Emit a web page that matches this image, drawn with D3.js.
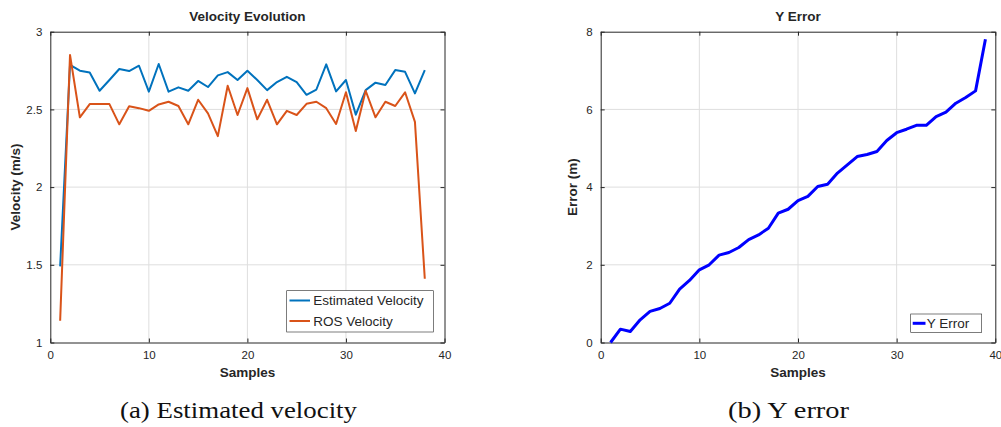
<!DOCTYPE html>
<html>
<head>
<meta charset="utf-8">
<script src="https://cdn.jsdelivr.net/npm/d3@7"></script>
<style>
  body { margin: 0; background: #fff; }
  svg text { font-family: "Liberation Sans", Arial, sans-serif; fill: #262626; }
  .grid line { stroke: #dedede; stroke-width: 1; }
  .caption { font-family: "Liberation Serif", "Times New Roman", serif; fill: #111; }
</style>
</head>
<body>
<div id="chart"></div>
<script>
// --- data ---
const estVelocity = [1.49, 2.786, 2.749, 2.738, 2.620, 2.689, 2.760, 2.747, 2.781, 2.614,
  2.792, 2.614, 2.642, 2.620, 2.683, 2.644, 2.719, 2.740, 2.689, 2.749,
  2.689, 2.624, 2.676, 2.710, 2.675, 2.594, 2.628, 2.790, 2.616, 2.689,
  2.466, 2.624, 2.672, 2.657, 2.753, 2.742, 2.603, 2.753]
const rosVelocity = [1.14, 2.85, 2.449, 2.534, 2.534, 2.534, 2.404, 2.52, 2.508, 2.491,
  2.532, 2.549, 2.522, 2.404, 2.562, 2.474, 2.328, 2.652, 2.464, 2.637,
  2.436, 2.562, 2.404, 2.491, 2.464, 2.536, 2.549, 2.508, 2.406, 2.61,
  2.361, 2.62, 2.449, 2.549, 2.522, 2.61, 2.42, 1.41]
const yError = [0.0, 0.344, 0.283, 0.584, 0.80, 0.875, 1.01, 1.374, 1.596, 1.87,
  2.0, 2.249, 2.316, 2.445, 2.65, 2.77, 2.94, 3.33, 3.43, 3.65,
  3.76, 4.015, 4.075, 4.36, 4.57, 4.787, 4.84, 4.915, 5.2, 5.40,
  5.49, 5.59, 5.59, 5.816, 5.93, 6.16, 6.305, 6.477, 7.807]

const xTicks = [0, 10, 20, 30, 40]
const velTicks = [1, 1.5, 2, 2.5, 3]
const errTicks = [0, 2, 4, 6, 8]

const W = 1001, H = 427
const svg = d3.select('#chart').append('svg')
  .attr('width', W).attr('height', H)

const plotTop = 31.7, plotBottom = 342.5
const fmt = d3.format('~g')

function panel(opt) {
  let { x0, x1, yDomain, yTicks, title, ylabel, ylabelX, caption, captionX, captionW } = opt
  let x = d3.scaleLinear().domain([0, 40]).range([x0, x1])
  let y = d3.scaleLinear().domain(yDomain).range([plotBottom, plotTop])
  let g = svg.append('g')

  // grid
  let grid = g.append('g').attr('class', 'grid')
  grid.selectAll('.gx').data(xTicks.slice(1, -1)).enter().append('line')
    .attr('x1', d => x(d)).attr('x2', d => x(d)).attr('y1', plotTop).attr('y2', plotBottom)
  grid.selectAll('.gy').data(yTicks.slice(1, -1)).enter().append('line')
    .attr('y1', d => y(d)).attr('y2', d => y(d)).attr('x1', x0).attr('x2', x1)

  // axes (matlab box style, inward ticks)
  let tick = 4
  let xa = g.append('g').attr('transform', `translate(0,${plotBottom})`)
    .call(d3.axisBottom(x).tickValues(xTicks).tickFormat(fmt).tickSizeInner(-tick).tickSizeOuter(0).tickPadding(8))
  let xt = g.append('g').attr('transform', `translate(0,${plotTop})`)
    .call(d3.axisTop(x).tickValues(xTicks).tickSizeInner(-tick).tickSizeOuter(0).tickFormat(''))
  let ya = g.append('g').attr('transform', `translate(${x0},0)`)
    .call(d3.axisLeft(y).tickValues(yTicks).tickFormat(fmt).tickSizeInner(-tick).tickSizeOuter(0).tickPadding(8))
  let yr = g.append('g').attr('transform', `translate(${x1},0)`)
    .call(d3.axisRight(y).tickValues(yTicks).tickSizeInner(-tick).tickSizeOuter(0).tickFormat(''))
  ;[xa, xt, ya, yr].forEach(a => {
    a.select('.domain').attr('stroke', '#262626').attr('stroke-width', 1)
    a.selectAll('.tick line').attr('stroke', '#262626')
    a.selectAll('text').attr('font-size', 11.5).attr('fill', '#262626')
  })

  g.append('text').attr('x', (x0 + x1) / 2).attr('y', 20.5)
    .attr('text-anchor', 'middle').attr('font-weight', 'bold').attr('font-size', 13.5)
    .text(title)
  g.append('text').attr('x', (x0 + x1) / 2).attr('y', 376.5)
    .attr('text-anchor', 'middle').attr('font-weight', 'bold').attr('font-size', 13.5)
    .text('Samples')
  g.append('text')
    .attr('transform', `translate(${ylabelX},${(plotTop + plotBottom) / 2}) rotate(-90)`)
    .attr('text-anchor', 'middle').attr('font-weight', 'bold').attr('font-size', 13.5)
    .text(ylabel)

  g.append('text').attr('class', 'caption').attr('x', captionX).attr('y', 418)
    .attr('text-anchor', 'middle').attr('font-size', 23)
    .attr('textLength', captionW).attr('lengthAdjust', 'spacingAndGlyphs')
    .text(caption)

  return { g, x, y }
}

// ---- left: velocity ----
let left = panel({
  x0: 50.3, x1: 444.5, yDomain: [1, 3], yTicks: velTicks,
  title: 'Velocity Evolution', ylabel: 'Velocity (m/s)', ylabelX: 20,
  caption: '(a) Estimated velocity', captionX: 238.5, captionW: 237
})

let lineL = d3.line().x((d, i) => left.x(i + 1)).y(d => left.y(d))
left.g.append('path').datum(estVelocity).attr('d', lineL)
  .attr('fill', 'none').attr('stroke', '#0072BD').attr('stroke-width', 2).attr('stroke-linejoin', 'round')
left.g.append('path').datum(rosVelocity).attr('d', lineL)
  .attr('fill', 'none').attr('stroke', '#D95319').attr('stroke-width', 2).attr('stroke-linejoin', 'round')

let legL = left.g.append('g')
legL.append('rect').attr('x', 286.7).attr('y', 290.7).attr('width', 146.6).attr('height', 41.3)
  .attr('fill', '#fff').attr('stroke', '#262626').attr('stroke-width', 0.6)
;[['Estimated Velocity', '#0072BD', 300.5], ['ROS Velocity', '#D95319', 321]].forEach(([t, c, yy]) => {
  legL.append('line').attr('x1', 289.5).attr('x2', 310).attr('y1', yy).attr('y2', yy)
    .attr('stroke', c).attr('stroke-width', 2)
  legL.append('text').attr('x', 313.3).attr('y', yy + 4.8).attr('font-size', 13.5).text(t)
})

// ---- right: y error ----
let right = panel({
  x0: 600.7, x1: 995.3, yDomain: [0, 8], yTicks: errTicks,
  title: 'Y Error', ylabel: 'Error (m)', ylabelX: 577,
  caption: '(b) Y error', captionX: 788.5, captionW: 121
})

let lineR = d3.line().x((d, i) => right.x(i + 1)).y(d => right.y(d))
right.g.append('path').datum(yError).attr('d', lineR)
  .attr('fill', 'none').attr('stroke', '#0000FF').attr('stroke-width', 3).attr('stroke-linejoin', 'round')

let legR = right.g.append('g')
legR.append('rect').attr('x', 910.7).attr('y', 314).attr('width', 71).attr('height', 18.5)
  .attr('fill', '#fff').attr('stroke', '#262626').attr('stroke-width', 0.6)
legR.append('line').attr('x1', 912.7).attr('x2', 925.5).attr('y1', 323.3).attr('y2', 323.3)
  .attr('stroke', '#0000FF').attr('stroke-width', 3)
legR.append('text').attr('x', 926.7).attr('y', 328.2).attr('font-size', 13.5).text('Y Error')
</script>
</body>
</html>
